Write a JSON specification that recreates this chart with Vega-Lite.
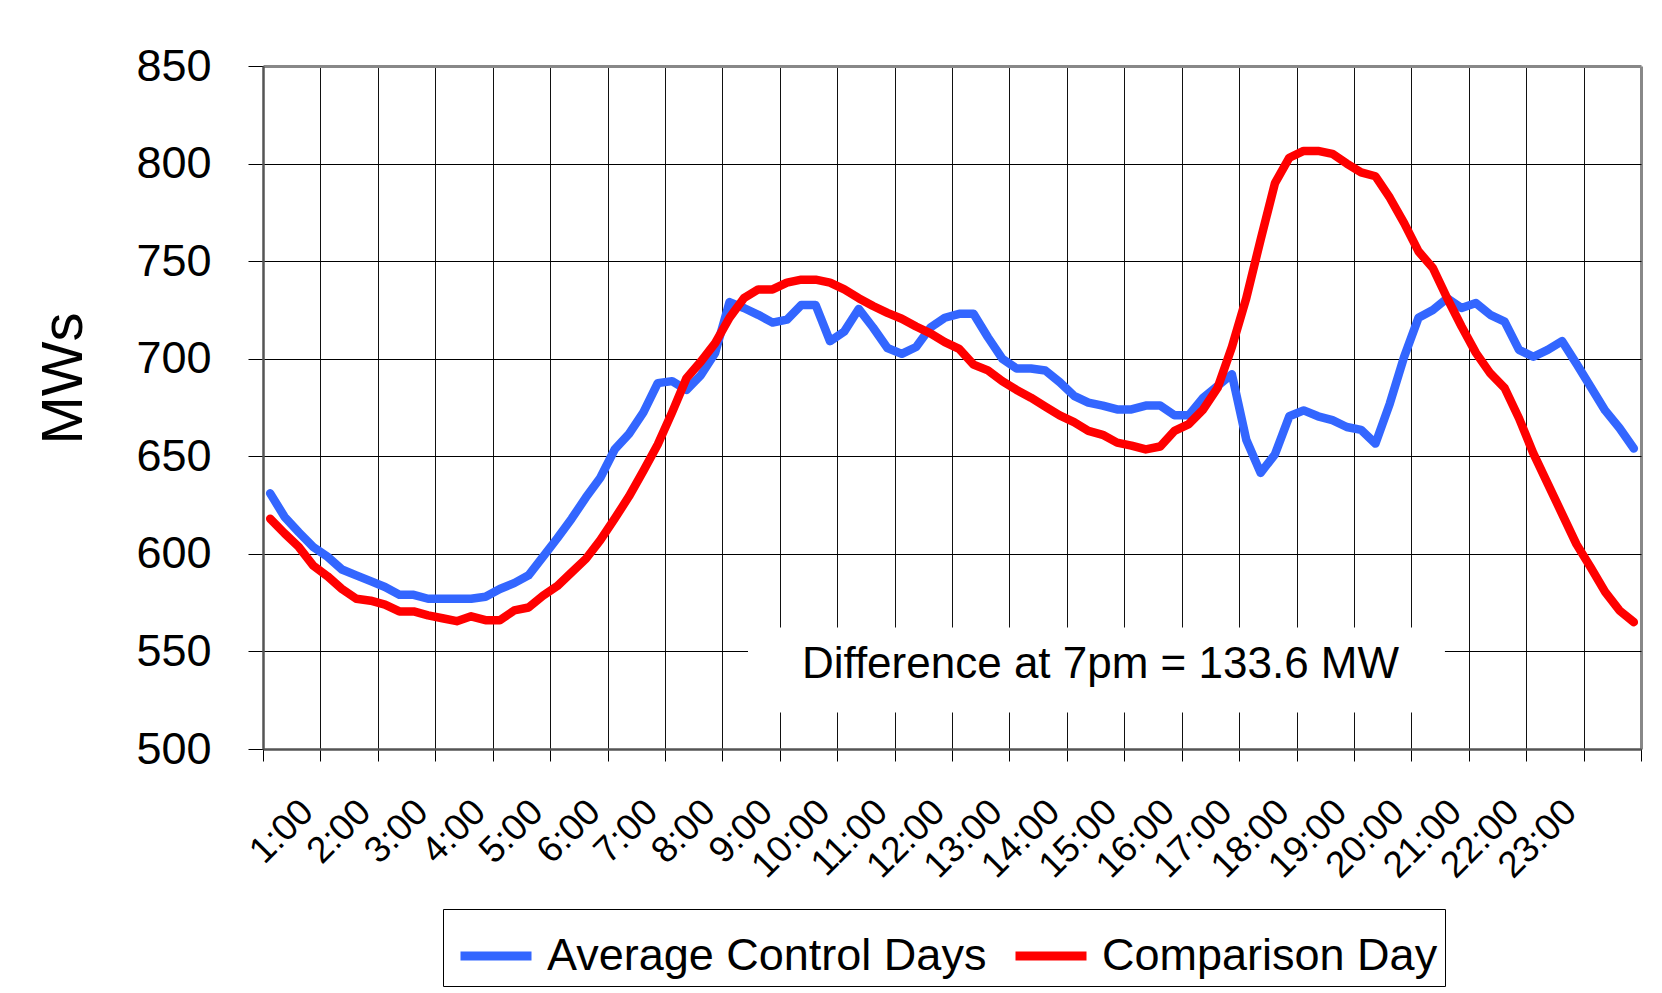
{
  "$schema": "https://vega.github.io/schema/vega-lite/v6.json",
  "width": 1378,
  "height": 683,
  "autosize": {"type": "none"},
  "padding": {"left": 263, "top": 66, "right": 21, "bottom": 244},
  "background": "white",
  "config": {"font": "Liberation Sans", "view": {"stroke": null}},
  "layer": [
    {
      "data": {"values": [
        {"time": 0.25, "Average Control Days": 631, "Comparison Day": 618},
        {"time": 0.5, "Average Control Days": 619, "Comparison Day": 610.5},
        {"time": 0.75, "Average Control Days": 611, "Comparison Day": 603.5},
        {"time": 1, "Average Control Days": 603.5, "Comparison Day": 594},
        {"time": 1.25, "Average Control Days": 598.5, "Comparison Day": 588.5},
        {"time": 1.5, "Average Control Days": 592, "Comparison Day": 582},
        {"time": 1.75, "Average Control Days": 589, "Comparison Day": 577},
        {"time": 2, "Average Control Days": 586, "Comparison Day": 576},
        {"time": 2.25, "Average Control Days": 583, "Comparison Day": 574},
        {"time": 2.5, "Average Control Days": 579, "Comparison Day": 570.5},
        {"time": 2.75, "Average Control Days": 579, "Comparison Day": 570.5},
        {"time": 3, "Average Control Days": 577, "Comparison Day": 568.5},
        {"time": 3.25, "Average Control Days": 577, "Comparison Day": 567},
        {"time": 3.5, "Average Control Days": 577, "Comparison Day": 565.5},
        {"time": 3.75, "Average Control Days": 577, "Comparison Day": 568},
        {"time": 4, "Average Control Days": 578, "Comparison Day": 566},
        {"time": 4.25, "Average Control Days": 582, "Comparison Day": 566},
        {"time": 4.5, "Average Control Days": 585, "Comparison Day": 571},
        {"time": 4.75, "Average Control Days": 589, "Comparison Day": 572.5},
        {"time": 5, "Average Control Days": 598.5, "Comparison Day": 578.5},
        {"time": 5.25, "Average Control Days": 608, "Comparison Day": 583.5},
        {"time": 5.5, "Average Control Days": 618, "Comparison Day": 590.5},
        {"time": 5.75, "Average Control Days": 629, "Comparison Day": 597.5},
        {"time": 6, "Average Control Days": 639, "Comparison Day": 607},
        {"time": 6.25, "Average Control Days": 653.5, "Comparison Day": 618},
        {"time": 6.5, "Average Control Days": 661.5, "Comparison Day": 629.5},
        {"time": 6.75, "Average Control Days": 672.5, "Comparison Day": 642.5},
        {"time": 7, "Average Control Days": 687.5, "Comparison Day": 656},
        {"time": 7.25, "Average Control Days": 688.5, "Comparison Day": 672.5},
        {"time": 7.5, "Average Control Days": 684, "Comparison Day": 690},
        {"time": 7.75, "Average Control Days": 691.5, "Comparison Day": 698.5},
        {"time": 8, "Average Control Days": 703, "Comparison Day": 708},
        {"time": 8.25, "Average Control Days": 729, "Comparison Day": 721},
        {"time": 8.5, "Average Control Days": 726, "Comparison Day": 731},
        {"time": 8.75, "Average Control Days": 722.5, "Comparison Day": 735.5},
        {"time": 9, "Average Control Days": 718.5, "Comparison Day": 735.5},
        {"time": 9.25, "Average Control Days": 720, "Comparison Day": 739},
        {"time": 9.5, "Average Control Days": 727.5, "Comparison Day": 740.5},
        {"time": 9.75, "Average Control Days": 727.5, "Comparison Day": 740.5},
        {"time": 10, "Average Control Days": 709, "Comparison Day": 739},
        {"time": 10.25, "Average Control Days": 714, "Comparison Day": 735.5},
        {"time": 10.5, "Average Control Days": 725.5, "Comparison Day": 731},
        {"time": 10.75, "Average Control Days": 716, "Comparison Day": 727},
        {"time": 11, "Average Control Days": 705.5, "Comparison Day": 723.5},
        {"time": 11.25, "Average Control Days": 702.5, "Comparison Day": 720.5},
        {"time": 11.5, "Average Control Days": 706, "Comparison Day": 716.5},
        {"time": 11.75, "Average Control Days": 716, "Comparison Day": 713},
        {"time": 12, "Average Control Days": 721, "Comparison Day": 708.5},
        {"time": 12.25, "Average Control Days": 723, "Comparison Day": 705},
        {"time": 12.5, "Average Control Days": 723, "Comparison Day": 697},
        {"time": 12.75, "Average Control Days": 711, "Comparison Day": 694},
        {"time": 13, "Average Control Days": 700, "Comparison Day": 688.5},
        {"time": 13.25, "Average Control Days": 695, "Comparison Day": 684},
        {"time": 13.5, "Average Control Days": 695, "Comparison Day": 680},
        {"time": 13.75, "Average Control Days": 694, "Comparison Day": 675.5},
        {"time": 14, "Average Control Days": 688, "Comparison Day": 671},
        {"time": 14.25, "Average Control Days": 681, "Comparison Day": 667.5},
        {"time": 14.5, "Average Control Days": 677.5, "Comparison Day": 663},
        {"time": 14.75, "Average Control Days": 676, "Comparison Day": 661},
        {"time": 15, "Average Control Days": 674, "Comparison Day": 657},
        {"time": 15.25, "Average Control Days": 674, "Comparison Day": 655.5},
        {"time": 15.5, "Average Control Days": 676, "Comparison Day": 653.5},
        {"time": 15.75, "Average Control Days": 676, "Comparison Day": 655},
        {"time": 16, "Average Control Days": 671, "Comparison Day": 663},
        {"time": 16.25, "Average Control Days": 671, "Comparison Day": 666.5},
        {"time": 16.5, "Average Control Days": 680, "Comparison Day": 674},
        {"time": 16.75, "Average Control Days": 686, "Comparison Day": 685},
        {"time": 17, "Average Control Days": 692, "Comparison Day": 706},
        {"time": 17.25, "Average Control Days": 658.5, "Comparison Day": 731},
        {"time": 17.5, "Average Control Days": 641.5, "Comparison Day": 761},
        {"time": 17.75, "Average Control Days": 651, "Comparison Day": 790},
        {"time": 18, "Average Control Days": 670.5, "Comparison Day": 803},
        {"time": 18.25, "Average Control Days": 673.5, "Comparison Day": 806.5},
        {"time": 18.5, "Average Control Days": 670.5, "Comparison Day": 806.5},
        {"time": 18.75, "Average Control Days": 668.5, "Comparison Day": 805},
        {"time": 19, "Average Control Days": 665, "Comparison Day": 800},
        {"time": 19.25, "Average Control Days": 663.5, "Comparison Day": 795.5},
        {"time": 19.5, "Average Control Days": 656.5, "Comparison Day": 793.5},
        {"time": 19.75, "Average Control Days": 677, "Comparison Day": 782.5},
        {"time": 20, "Average Control Days": 701, "Comparison Day": 769.5},
        {"time": 20.25, "Average Control Days": 721, "Comparison Day": 755},
        {"time": 20.5, "Average Control Days": 725, "Comparison Day": 746.5},
        {"time": 20.75, "Average Control Days": 731, "Comparison Day": 731},
        {"time": 21, "Average Control Days": 726, "Comparison Day": 716.5},
        {"time": 21.25, "Average Control Days": 728.5, "Comparison Day": 703},
        {"time": 21.5, "Average Control Days": 722.5, "Comparison Day": 692.5},
        {"time": 21.75, "Average Control Days": 719, "Comparison Day": 685},
        {"time": 22, "Average Control Days": 704.5, "Comparison Day": 669.5},
        {"time": 22.25, "Average Control Days": 701, "Comparison Day": 651.5},
        {"time": 22.5, "Average Control Days": 704.5, "Comparison Day": 636},
        {"time": 22.75, "Average Control Days": 709, "Comparison Day": 620.5},
        {"time": 23, "Average Control Days": 697.5, "Comparison Day": 605},
        {"time": 23.25, "Average Control Days": 685.5, "Comparison Day": 593},
        {"time": 23.5, "Average Control Days": 673.5, "Comparison Day": 580.5},
        {"time": 23.75, "Average Control Days": 664.5, "Comparison Day": 571},
        {"time": 24, "Average Control Days": 654, "Comparison Day": 565}
      ]},
      "transform": [{"fold": ["Average Control Days", "Comparison Day"], "as": ["series", "MW"]}],
      "mark": {"type": "line", "strokeWidth": 8.5, "strokeCap": "round", "strokeJoin": "round"},
      "encoding": {
        "x": {
          "field": "time", "type": "quantitative", "title": null,
          "scale": {"domain": [0.125, 24.125], "nice": false, "zero": false},
          "axis": {
            "values": [0.125, 1.125, 2.125, 3.125, 4.125, 5.125, 6.125, 7.125, 8.125, 9.125, 10.125, 11.125, 12.125, 13.125, 14.125, 15.125, 16.125, 17.125, 18.125, 19.125, 20.125, 21.125, 22.125, 23.125, 24.125],
            "labelExpr": "datum.value < 23 ? (floor(datum.value) + 1) + ':00' : ''",
            "labelAngle": -45, "labelAlign": "right", "labelBaseline": "middle",
            "labelFontSize": 37, "labelColor": "black", "labelOffset": 44, "labelPadding": 45,
            "labelFlush": false, "labelOverlap": false, "labelBound": false,
            "tickSize": 12, "tickColor": "black", "tickWidth": 1,
            "domainColor": "#555555", "domainWidth": 2.5,
            "gridColor": {"condition": {"test": "datum.value > 24", "value": "#888888"}, "value": "#111111"},
            "gridWidth": {"condition": {"test": "datum.value > 24", "value": 3}, "value": 1},
            "gridOpacity": 1
          }
        },
        "y": {
          "field": "MW", "type": "quantitative", "title": "MWs",
          "scale": {"domain": [500, 850], "nice": false, "zero": false},
          "axis": {
            "values": [500, 550, 600, 650, 700, 750, 800, 850],
            "titleFontSize": 58, "titleFontWeight": "normal", "titleColor": "black",
            "titleAngle": -90, "titleX": -170, "titleY": 312, "titleAlign": "center", "titleBaseline": "bottom",
            "labelFontSize": 45, "labelColor": "black", "labelPadding": 37,
            "tickSize": 15, "tickColor": "black", "tickWidth": 1,
            "domainColor": "#555555", "domainWidth": 2.5,
            "gridColor": {"condition": {"test": "datum.value > 840", "value": "#888888"}, "value": "black"},
            "gridWidth": {"condition": {"test": "datum.value > 840", "value": 3}, "value": 1},
            "gridOpacity": 1
          }
        },
        "color": {
          "field": "series", "type": "nominal",
          "scale": {"domain": ["Average Control Days", "Comparison Day"], "range": ["#3366ff", "#ff0000"]},
          "legend": {
            "title": null, "orient": "none", "legendX": 180, "legendY": 843, "direction": "horizontal",
            "strokeColor": "black", "fillColor": "white", "padding": 7,
            "symbolType": "stroke", "symbolSize": 5041, "symbolStrokeWidth": 9, "symbolOffset": 6,
            "labelOffset": 11, "labelFontSize": 45, "labelColor": "black", "labelLimit": 1000,
            "columnPadding": 10
          }
        }
      }
    },
    {
      "data": {"values": [{"time": 8.572, "time2": 20.71, "MW": 518.7, "MW2": 562.2}]},
      "mark": {"type": "rect", "fill": "white"},
      "encoding": {
        "x": {"field": "time", "type": "quantitative", "title": null},
        "x2": {"field": "time2"},
        "y": {"field": "MW", "type": "quantitative", "title": "MWs"},
        "y2": {"field": "MW2"}
      }
    },
    {
      "data": {"values": [{"time": 14.711, "MW": 543.2, "label": "Difference at 7pm = 133.6 MW"}]},
      "mark": {"type": "text", "fontSize": 44, "align": "center", "baseline": "middle", "color": "black"},
      "encoding": {
        "x": {"field": "time", "type": "quantitative", "title": null},
        "y": {"field": "MW", "type": "quantitative", "title": "MWs"},
        "text": {"field": "label"}
      }
    }
  ]
}
